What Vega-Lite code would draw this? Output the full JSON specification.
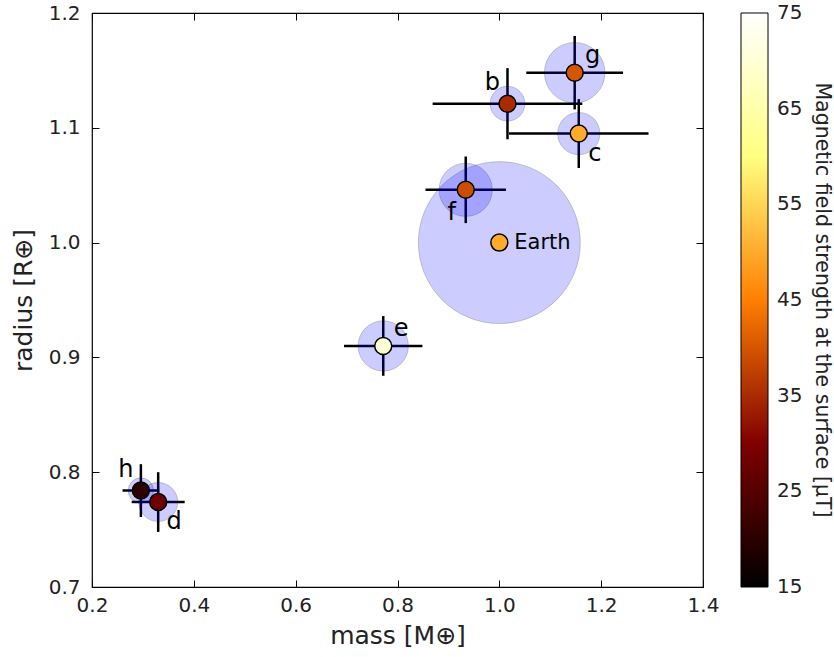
{
  "$schema": "https://vega.github.io/schema/vega-lite/v6.json",
  "autosize": "none",
  "width": 611,
  "height": 574,
  "padding": {"left": 92, "top": 13, "right": 131, "bottom": 70},
  "background": "white",
  "config": {
    "font": "DejaVu Sans",
    "view": {"stroke": "black", "strokeWidth": 1.2},
    "scale": {"continuousPadding": 0},
    "axis": {"grid": false, "domain": false, "labelFlush": false, "tickColor": "black", "labelColor": "#222", "titleColor": "#222", "labelFont": "DejaVu Sans", "titleFont": "DejaVu Sans", "titleFontWeight": "normal"}
  },
  "data": {
    "values": [
      {"name": "b", "mass": 1.016, "mass_err": 0.147, "radius": 1.121, "radius_err": 0.031, "B": 35, "magnetosphere": 0.215},
      {"name": "c", "mass": 1.156, "mass_err": 0.137, "radius": 1.095, "radius_err": 0.030, "B": 50, "magnetosphere": 0.261},
      {"name": "d", "mass": 0.330, "mass_err": 0.052, "radius": 0.774, "radius_err": 0.026, "B": 28, "magnetosphere": 0.241},
      {"name": "e", "mass": 0.772, "mass_err": 0.077, "radius": 0.910, "radius_err": 0.026, "B": 70, "magnetosphere": 0.311},
      {"name": "f", "mass": 0.934, "mass_err": 0.079, "radius": 1.046, "radius_err": 0.029, "B": 39, "magnetosphere": 0.329},
      {"name": "g", "mass": 1.148, "mass_err": 0.095, "radius": 1.148, "radius_err": 0.032, "B": 40, "magnetosphere": 0.374},
      {"name": "h", "mass": 0.296, "mass_err": 0.036, "radius": 0.784, "radius_err": 0.023, "B": 20, "magnetosphere": 0.157},
      {"name": "Earth", "mass": 1.0, "radius": 1.0, "B": 50, "magnetosphere": 1.0}
    ]
  },
  "layer": [
    {
      "transform": [{"filter": "isValid(datum.mass_err)"}],
      "mark": {"type": "errorbar", "ticks": false, "rule": {"strokeWidth": 2.5, "color": "black"}},
      "encoding": {
        "x": {"field": "mass", "type": "quantitative", "scale": {"domain": [0.2, 1.4], "nice": false, "zero": false, "padding": 0},
              "axis": {"orient": "bottom", "values": [0.2, 0.4, 0.6, 0.8, 1.0, 1.2, 1.4], "format": ".1f", "labelFontSize": 20, "labelFlush": false, "tickSize": -7, "labelPadding": 15, "title": "mass [M⊕]", "titleFontSize": 25, "titlePadding": 8}},
        "xError": {"field": "mass_err"},
        "y": {"field": "radius", "type": "quantitative", "scale": {"domain": [0.7, 1.2], "nice": false, "zero": false, "padding": 0},
              "axis": {"orient": "left", "values": [0.7, 0.8, 0.9, 1.0, 1.1, 1.2], "format": ".1f", "labelFontSize": 20, "labelFlush": false, "tickSize": -7, "labelPadding": 19, "title": "radius [R⊕]", "titleFontSize": 25, "titlePadding": 12}}
      }
    },
    {
      "transform": [{"filter": "isValid(datum.radius_err)"}],
      "mark": {"type": "errorbar", "ticks": false, "rule": {"strokeWidth": 2.5, "color": "black"}},
      "encoding": {
        "x": {"field": "mass", "type": "quantitative", "scale": {"domain": [0.2, 1.4], "nice": false, "zero": false, "padding": 0}, "axis": null},
        "y": {"field": "radius", "type": "quantitative", "scale": {"domain": [0.7, 1.2], "nice": false, "zero": false, "padding": 0}, "axis": null},
        "yError": {"field": "radius_err"}
      }
    },
    {
      "mark": {"type": "circle", "fill": "#0000ff", "fillOpacity": 0.2, "stroke": "#000000", "strokeOpacity": 0.18, "strokeWidth": 1, "opacity": 1},
      "encoding": {
        "x": {"field": "mass", "type": "quantitative", "scale": {"domain": [0.2, 1.4], "nice": false, "zero": false, "padding": 0}, "axis": null},
        "y": {"field": "radius", "type": "quantitative", "scale": {"domain": [0.7, 1.2], "nice": false, "zero": false, "padding": 0}, "axis": null},
        "size": {"field": "magnetosphere", "type": "quantitative", "scale": {"type": "pow", "exponent": 2, "domain": [0, 1], "range": [0, 26244]}, "legend": null}
      }
    },
    {
      "mark": {"type": "circle", "size": 289, "stroke": "black", "strokeWidth": 1.5, "opacity": 1},
      "encoding": {
        "x": {"field": "mass", "type": "quantitative", "scale": {"domain": [0.2, 1.4], "nice": false, "zero": false, "padding": 0}, "axis": null},
        "y": {"field": "radius", "type": "quantitative", "scale": {"domain": [0.7, 1.2], "nice": false, "zero": false, "padding": 0}, "axis": null},
        "color": {"field": "B", "type": "quantitative",
          "scale": {"domain": [15, 30, 45, 60, 75], "range": ["#000000", "#800000", "#ff8000", "#ffff80", "#ffffff"], "interpolate": "rgb"},
          "legend": {"orient": "none", "legendX": 649, "legendY": 0, "direction": "vertical", "gradientLength": 574, "gradientThickness": 27, "gradientStrokeColor": "black", "gradientStrokeWidth": 1, "values": [15.001, 25, 35, 45, 55, 65, 74.999], "format": ".0f", "labelFontSize": 20, "labelColor": "#222", "labelOffset": 9, "labelOverlap": false, "title": "Magnetic field strength at the surface [μT]", "titleLimit": 800, "titleFontSize": 20.5, "titleFontWeight": "normal", "titleColor": "#222", "titleOrient": "right", "titleAngle": 270, "titleAnchor": "middle", "titlePadding": 10}}
      }
    },
    {
      "transform": [{"filter": "datum.name == 'b' || datum.name == 'h'"}],
      "mark": {"type": "text", "fontSize": 24, "dx": -15, "dy": -21, "align": "center", "baseline": "middle", "color": "black"},
      "encoding": {
        "x": {"field": "mass", "type": "quantitative", "scale": {"domain": [0.2, 1.4], "nice": false, "zero": false, "padding": 0}, "axis": null},
        "y": {"field": "radius", "type": "quantitative", "scale": {"domain": [0.7, 1.2], "nice": false, "zero": false, "padding": 0}, "axis": null},
        "text": {"field": "name"}
      }
    },
    {
      "transform": [{"filter": "datum.name == 'g' || datum.name == 'e'"}],
      "mark": {"type": "text", "fontSize": 24, "dx": 18, "dy": -17, "align": "center", "baseline": "middle", "color": "black"},
      "encoding": {
        "x": {"field": "mass", "type": "quantitative", "scale": {"domain": [0.2, 1.4], "nice": false, "zero": false, "padding": 0}, "axis": null},
        "y": {"field": "radius", "type": "quantitative", "scale": {"domain": [0.7, 1.2], "nice": false, "zero": false, "padding": 0}, "axis": null},
        "text": {"field": "name"}
      }
    },
    {
      "transform": [{"filter": "datum.name == 'c' || datum.name == 'd'"}],
      "mark": {"type": "text", "fontSize": 24, "dx": 16, "dy": 20, "align": "center", "baseline": "middle", "color": "black"},
      "encoding": {
        "x": {"field": "mass", "type": "quantitative", "scale": {"domain": [0.2, 1.4], "nice": false, "zero": false, "padding": 0}, "axis": null},
        "y": {"field": "radius", "type": "quantitative", "scale": {"domain": [0.7, 1.2], "nice": false, "zero": false, "padding": 0}, "axis": null},
        "text": {"field": "name"}
      }
    },
    {
      "transform": [{"filter": "datum.name == 'f'"}],
      "mark": {"type": "text", "fontSize": 24, "dx": -14, "dy": 23, "align": "center", "baseline": "middle", "color": "black"},
      "encoding": {
        "x": {"field": "mass", "type": "quantitative", "scale": {"domain": [0.2, 1.4], "nice": false, "zero": false, "padding": 0}, "axis": null},
        "y": {"field": "radius", "type": "quantitative", "scale": {"domain": [0.7, 1.2], "nice": false, "zero": false, "padding": 0}, "axis": null},
        "text": {"field": "name"}
      }
    },
    {
      "transform": [{"filter": "datum.name == 'Earth'"}],
      "mark": {"type": "text", "fontSize": 21, "dx": 15, "dy": 0, "align": "left", "baseline": "middle", "color": "black"},
      "encoding": {
        "x": {"field": "mass", "type": "quantitative", "scale": {"domain": [0.2, 1.4], "nice": false, "zero": false, "padding": 0}, "axis": null},
        "y": {"field": "radius", "type": "quantitative", "scale": {"domain": [0.7, 1.2], "nice": false, "zero": false, "padding": 0}, "axis": null},
        "text": {"field": "name"}
      }
    },
    {
      "mark": {"type": "point", "opacity": 0},
      "encoding": {
        "x": {"field": "mass", "type": "quantitative", "scale": {"domain": [0.2, 1.4], "nice": false, "zero": false, "padding": 0}, "axis": {"orient": "top", "values": [0.2, 0.4, 0.6, 0.8, 1.0, 1.2, 1.4], "labels": false, "title": null, "tickSize": -7}},
        "y": {"field": "radius", "type": "quantitative", "scale": {"domain": [0.7, 1.2], "nice": false, "zero": false, "padding": 0}, "axis": {"orient": "right", "values": [0.7, 0.8, 0.9, 1.0, 1.1, 1.2], "labels": false, "title": null, "tickSize": -7}}
      }
    }
  ],
  "resolve": {"axis": {"x": "independent", "y": "independent"}}
}
